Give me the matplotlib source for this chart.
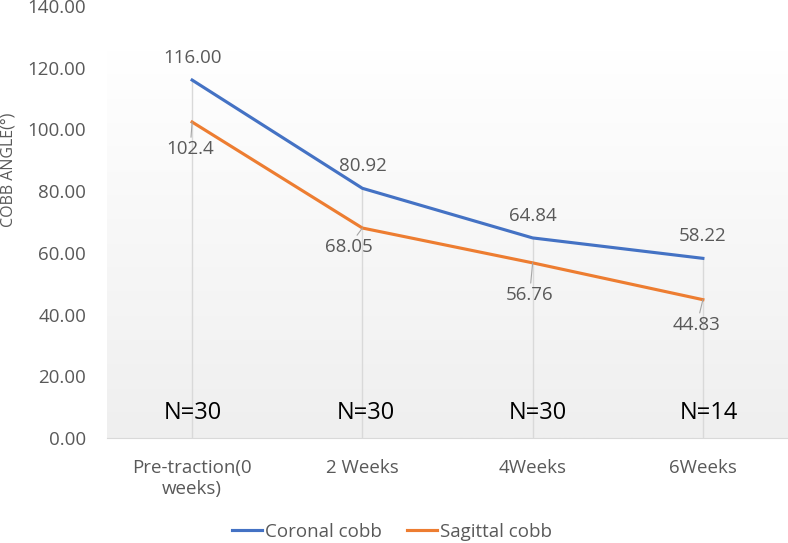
import numpy as np
import matplotlib
matplotlib.use('Agg')
import matplotlib.pyplot as plt
from matplotlib.colors import LinearSegmentedColormap

plt.rcParams['font.family'] = ['Open Sans', 'DejaVu Sans']

categories = ['Pre-traction(0\nweeks)', '2 Weeks', '4Weeks', '6Weeks']
coronal = [116.00, 80.92, 64.84, 58.22]
sagittal = [102.4, 68.05, 56.76, 44.83]
coronal_labels = ['116.00', '80.92', '64.84', '58.22']
sagittal_labels = ['102.4', '68.05', '56.76', '44.83']
n_counts = [30, 30, 30, 14]
yticks = [0, 20, 40, 60, 80, 100, 120, 140]

text_col = '#595959'
blue = '#4472C4'
orange = '#ED7D31'

fig = plt.figure(figsize=(7.88, 5.43), dpi=100)
ax = fig.add_axes([107 / 788, 105 / 543, 681 / 788, 432 / 543])

x = np.arange(len(categories))
ax.set_xlim(-0.5, len(categories) - 0.5)
ax.set_ylim(0, 140)

# gradient background
grad = LinearSegmentedColormap.from_list('bg', ['#efefef', '#ffffff'])
ax.imshow(np.linspace(0, 1, 256).reshape(-1, 1), cmap=grad, aspect='auto',
          extent=[-0.5, len(categories) - 0.5, 0, 140], origin='lower',
          vmin=0.0, vmax=0.9, zorder=0)

# drop lines
for xi, c, s in zip(x, coronal, sagittal):
    ax.plot([xi, xi], [0, max(c, s)], color='#d9d9d9', lw=1, zorder=1)

ax.plot(x, coronal, color=blue, lw=2.25, label='Coronal cobb', zorder=3)
ax.plot(x, sagittal, color=orange, lw=2.25, label='Sagittal cobb', zorder=3)

# coronal labels above
for xi, v, t in zip(x, coronal, coronal_labels):
    ax.annotate(t, (xi, v), xytext=(0, 22), textcoords='offset pixels',
                ha='center', va='center', fontsize=13.5, color=text_col)

# sagittal labels below with leader lines
sag_off = [(-2, -27), (-14, -19), (-3, -32), (-6, -25)]
for xi, v, t, off in zip(x, sagittal, sagittal_labels, sag_off):
    ax.annotate(t, (xi, v), xytext=off, textcoords='offset pixels',
                ha='center', va='center', fontsize=13.5, color=text_col,
                arrowprops=dict(arrowstyle='-', color='#a6a6a6', lw=0.8,
                                shrinkA=0, shrinkB=0))

# N labels
n_dx = [0.005, 0.02, 0.03, 0.035]
for xi, n, dx in zip(x, n_counts, n_dx):
    ax.text(xi + dx, 8, 'N=%d' % n, ha='center', va='center', fontsize=17,
            color='black', zorder=4)

ax.set_xticks(x)
ax.set_xticklabels(categories, fontsize=13.5, color=text_col, linespacing=1.2)
ax.set_yticks(yticks)
ax.set_yticklabels(['%.2f' % v for v in yticks], fontsize=13.5, color=text_col)
ax.tick_params(axis='x', length=0, pad=15)
ax.tick_params(axis='y', length=0, pad=15)

for sp in ['top', 'right', 'left']:
    ax.spines[sp].set_visible(False)
ax.spines['bottom'].set_color('#d9d9d9')

fig.text(9 / 788, 1 - 170 / 543, 'COBB ANGLE(°)', rotation=90, ha='center',
         va='center', fontsize=11.5, color=text_col)

fig.legend(loc='center', bbox_to_anchor=(392 / 788, 11 / 543), ncol=2,
           frameon=False, fontsize=13.5, handlelength=1.6, handletextpad=0.2,
           columnspacing=1.3, labelcolor=text_col)

fig.savefig('out.png', dpi=100)
